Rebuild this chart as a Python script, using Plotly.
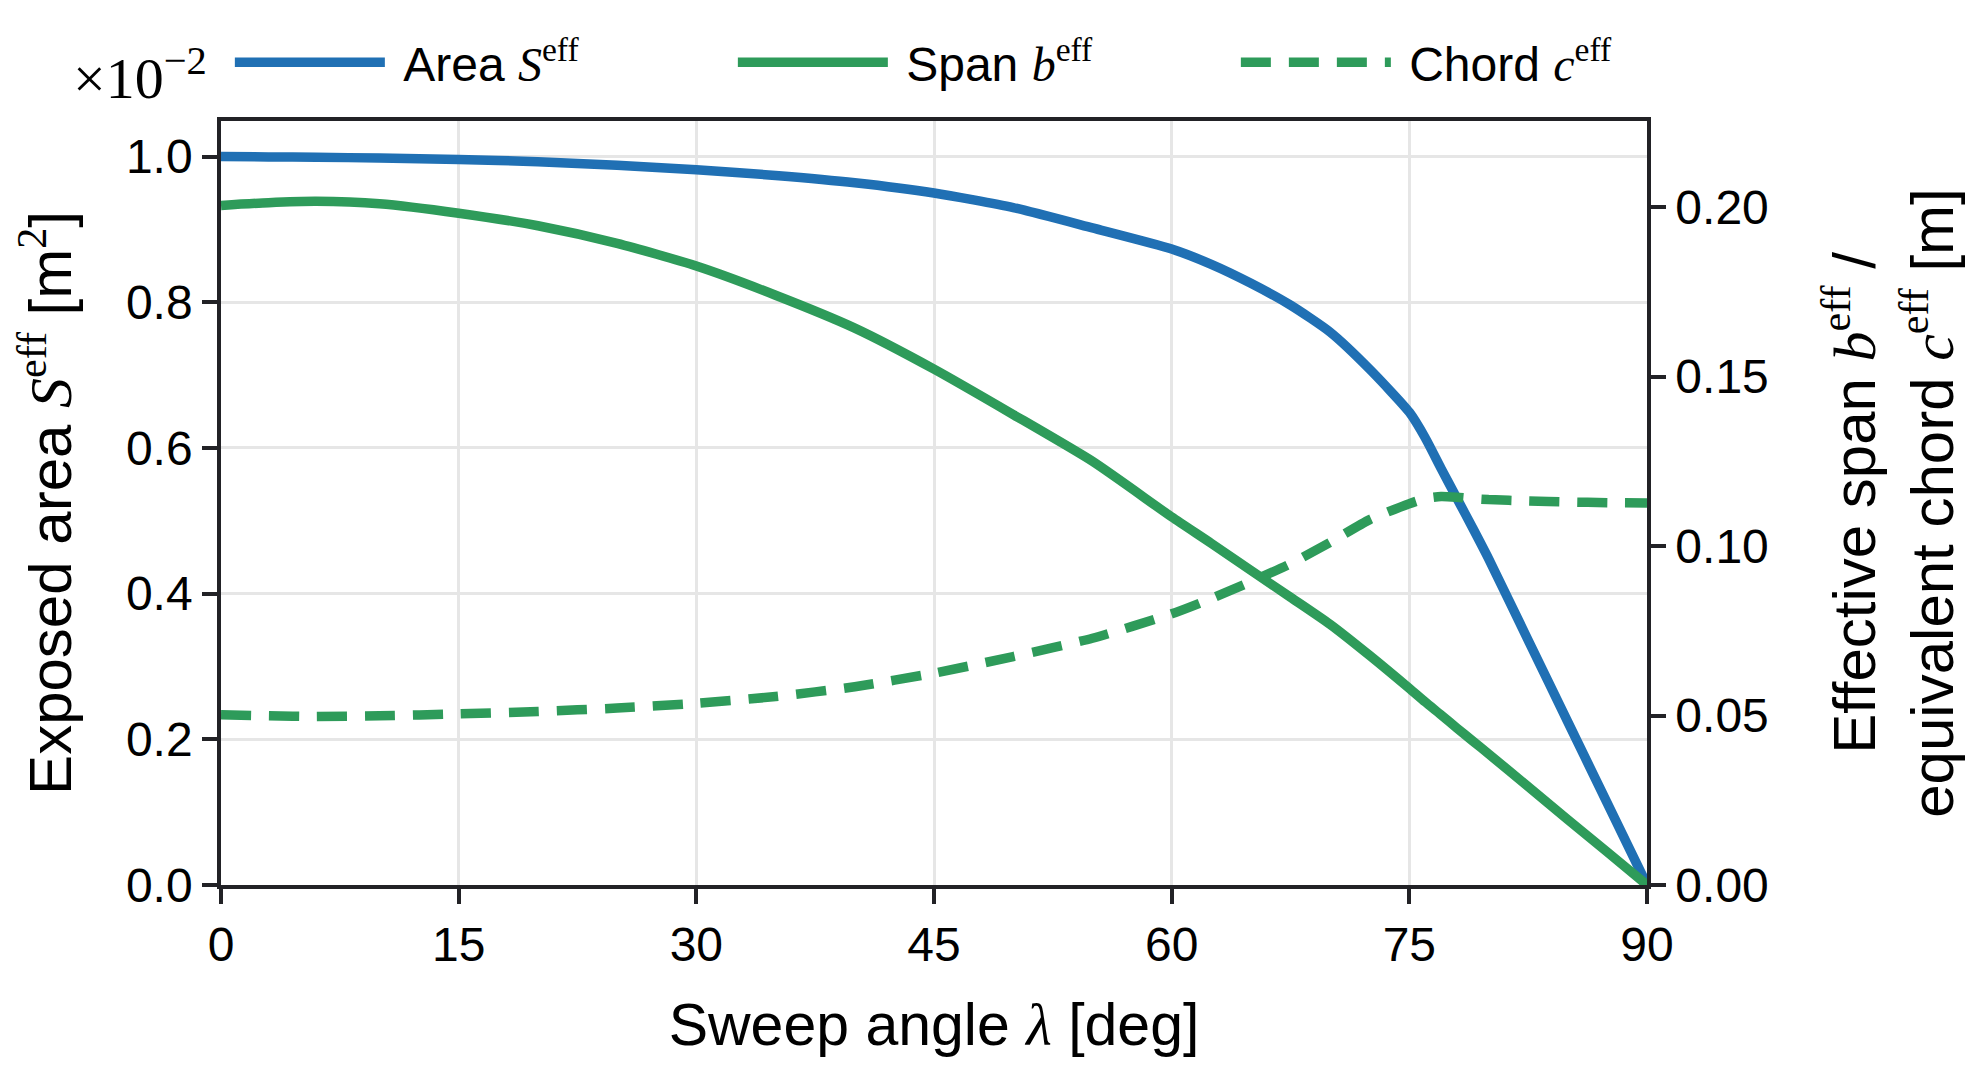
import plotly.graph_objects as go

# ---- data ----
sweep_deg = [0, 3, 6, 10, 15, 20, 25, 30, 35, 40, 45, 50, 55, 60, 62.5, 65, 67.5, 70, 72.5,
             75, 76, 77, 78, 79, 80, 82.5, 85, 87.5, 90]
area_e2 = [1.000, 0.9995, 0.999, 0.998, 0.996, 0.993, 0.988, 0.982, 0.974, 0.964, 0.950, 0.930,
           0.902, 0.873, 0.852, 0.826, 0.796, 0.759, 0.708, 0.649, 0.614, 0.572, 0.531, 0.490,
           0.448, 0.336, 0.224, 0.112, 0.0]
span_m = [0.2005, 0.2013, 0.2017, 0.2010, 0.1982, 0.1945, 0.1893, 0.1826, 0.1740, 0.1643, 0.1522,
          0.1388, 0.1250, 0.1086, 0.1008, 0.0928, 0.0849, 0.0769, 0.0677, 0.0580, 0.0540, 0.0502,
          0.0463, 0.0425, 0.0387, 0.0290, 0.0193, 0.0097, 0.0]
chord_m = [0.0502, 0.0499, 0.0497, 0.0499, 0.0505, 0.0512, 0.0522, 0.0536, 0.0556, 0.0585, 0.0625,
           0.0674, 0.0728, 0.0800, 0.0845, 0.0895, 0.0948, 0.1011, 0.1078, 0.1125, 0.1140, 0.1146,
           0.1144, 0.1140, 0.1137, 0.1133, 0.1130, 0.1128, 0.1127]

x_ticks = [0, 15, 30, 45, 60, 75, 90]
left_ticks = [0.0, 0.2, 0.4, 0.6, 0.8, 1.0]
right_ticks = [0.00, 0.05, 0.10, 0.15, 0.20]

BLUE = "#2070b4"
GREEN = "#2e9b5a"
DARK = "#222226"
SANS = "Liberation Sans, Arial, sans-serif"
SERIF = "Liberation Serif, DejaVu Serif, serif"
NB = "\u00a0"


def m(sym, sup=None):
    s = f'<span style="font-family:{SERIF}"><i>{sym}</i>'
    if sup:
        s += f'<sup>{sup}</sup>'
    return s + '</span>'


LW = 9.5
SMOOTH = 0.6
fig = go.Figure()
fig.add_trace(go.Scatter(x=sweep_deg, y=area_e2, mode="lines", name=NB + "Area " + m("S", "eff"),
                         line=dict(color=BLUE, width=LW, shape="spline", smoothing=SMOOTH),
                         yaxis="y", legendrank=1))
fig.add_trace(go.Scatter(x=sweep_deg, y=chord_m, mode="lines", name=NB + "Chord " + m("c", "eff"),
                         line=dict(color=GREEN, width=LW, dash="30px,18px", shape="spline",
                                   smoothing=SMOOTH),
                         yaxis="y2", legendrank=3))
fig.add_trace(go.Scatter(x=sweep_deg, y=span_m, mode="lines", name=NB + "Span " + m("b", "eff"),
                         line=dict(color=GREEN, width=LW, shape="spline", smoothing=SMOOTH),
                         yaxis="y2", legendrank=2))

fig.update_layout(
    width=1985, height=1072,
    margin=dict(l=221, r=338, t=121, b=187, autoexpand=False),
    paper_bgcolor="white", plot_bgcolor="white",
    font=dict(family=SANS, size=48, color="black"),
    showlegend=True,
    legend=dict(orientation="h", x=-0.0001, y=(885 - 63) / 763.5, xref="paper", yref="paper",
                xanchor="left", yanchor="middle", font=dict(size=48),
                itemwidth=150, entrywidth=338, entrywidthmode="pixels",
                borderwidth=9, bordercolor="rgba(0,0,0,0)",
                bgcolor="rgba(0,0,0,0)", traceorder="normal"),
    xaxis=dict(range=[0, 90], tickvals=x_ticks, ticktext=[str(v) for v in x_ticks],
               showline=True, linecolor=DARK, linewidth=3.5, mirror=True,
               ticks="outside", ticklen=15, tickwidth=3.5, tickcolor=DARK,
               showgrid=True, gridcolor="#e6e6e6", gridwidth=3, zeroline=False,
               title=dict(text="Sweep angle " + m("λ") + " [deg]", font=dict(size=59), standoff=34)),
    yaxis=dict(range=[0, 1.0488], tickvals=left_ticks, ticktext=[f"{v:.1f}" for v in left_ticks],
               showline=True, linecolor=DARK, linewidth=3.5,
               ticks="outside", ticklen=15, tickwidth=3.5, tickcolor=DARK,
               showgrid=True, gridcolor="#e6e6e6", gridwidth=3, zeroline=False,
               title=dict(text="Exposed area " + m("S", "eff") + " [m" +
                          f'<span style="font-family:{SERIF}"><sup>2</sup></span>]',
                          font=dict(size=60), standoff=36)),
    yaxis2=dict(range=[0, 0.2254], overlaying="y", side="right", anchor="x",
                tickvals=right_ticks, ticktext=[f"{v:.2f}" for v in right_ticks],
                showline=True, linecolor=DARK, linewidth=3.5,
                ticks="outside", ticklen=15, tickwidth=3.5, tickcolor=DARK,
                showgrid=False, zeroline=False,
                title=dict(text="Effective span " + m("b", "eff") + " /<br>equivalent chord " +
                           m("c", "eff") + " [m]", font=dict(size=60), standoff=66)),
)

fig.add_annotation(xref="paper", yref="paper", x=0, y=1, xanchor="right", yanchor="bottom",
                   xshift=-12, yshift=8, showarrow=False,
                   text="×10<sup>−2</sup>", font=dict(family=SERIF, size=58, color="black"))

fig.write_html("out.html")
